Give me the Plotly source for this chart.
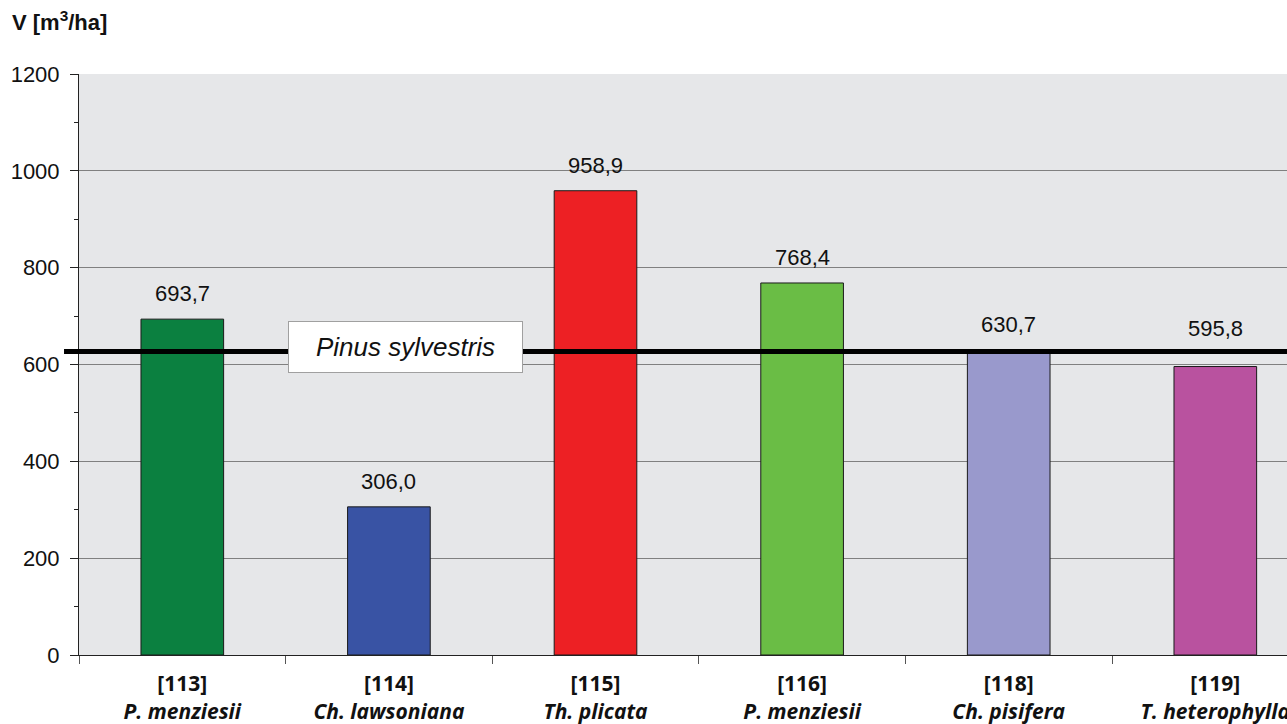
import plotly.graph_objects as go

# Stand volume per plot
plots = ["[113]", "[114]", "[115]", "[116]", "[118]", "[119]"]
species = ["P. menziesii", "Ch. lawsoniana", "Th. plicata", "P. menziesii", "Ch. pisifera", "T. heterophylla"]
volume = [693.7, 306.0, 958.9, 768.4, 630.7, 595.8]
bar_colors = ["#0b8040", "#3953a4", "#ed2024", "#6abd45", "#9999cc", "#b9529f"]

# Reference stand
ref_name = "Pinus sylvestris"
ref_volume = 627

y_ticks = [0, 200, 400, 600, 800, 1000, 1200]

fmt = lambda v: f"{v:.1f}".replace(".", ",")
ticktext = [f"<b>{p}</b><br><b><i>{s}</i></b>" for p, s in zip(plots, species)]

fig = go.Figure()
fig.add_trace(go.Bar(
    x=plots, y=volume,
    marker=dict(color=bar_colors, line=dict(color="#1a1a1a", width=1)),
    width=0.4,
    hoverinfo="skip",
))

for p, v in zip(plots, volume):
    # labels sitting just under the reference line are lifted above it
    lift = 24 if ref_volume - 40 < v < ref_volume else 11
    fig.add_annotation(
        x=p, y=v, text=fmt(v), showarrow=False,
        yanchor="bottom", yshift=lift,
        font=dict(family="Liberation Sans", size=22, color="#111"),
    )

# Reference line
fig.add_shape(
    type="line", xref="paper", yref="y",
    x0=-0.0124, x1=1, y0=ref_volume, y1=ref_volume,
    line=dict(color="black", width=5), layer="above",
)
fig.add_annotation(
    xref="paper", yref="y", x=0.2703, y=ref_volume,
    text=f"<i>{ref_name}</i>", showarrow=False,
    xanchor="center", yanchor="middle", yshift=4,
    width=231, height=48, bgcolor="white",
    bordercolor="#a0a0a0", borderwidth=1, borderpad=1,
    font=dict(family="Liberation Sans", size=26, color="#111"),
)

fig.add_annotation(
    xref="paper", yref="paper", x=-0.0575, y=1.0,
    xanchor="left", yanchor="bottom", yshift=37,
    text="<b>V [m<sup>3</sup>/ha]</b>", showarrow=False,
    font=dict(family="Liberation Sans", size=22, color="#111"),
)

fig.update_layout(
    width=1287, height=724,
    margin=dict(l=79, r=0, t=74, b=69, autoexpand=False),
    paper_bgcolor="white", plot_bgcolor="#e6e7e9",
    showlegend=False,
    bargap=0.6,
)
fig.update_xaxes(
    type="category", range=[-0.5, 5.347], automargin=False,
    tickmode="array", tickvals=plots, ticktext=ticktext,
    tickson="boundaries", ticks="outside", ticklen=8, tickcolor="#555",
    ticklabelstandoff=10,
    showline=True, linecolor="#222", linewidth=1,
    showgrid=False,
    tickfont=dict(family="Open Sans", size=21, color="#111"),
)
fig.update_yaxes(
    range=[0, 1200], tickvals=y_ticks, automargin=False,
    ticks="outside", ticklen=8, tickcolor="#222",
    ticklabelstandoff=6,
    minor=dict(dtick=100, ticks="outside", ticklen=4, tickcolor="#222", showgrid=False),
    showline=True, linecolor="#222", linewidth=1,
    showgrid=True, gridcolor="#808080", gridwidth=1,
    zeroline=False,
    tickfont=dict(family="Liberation Sans", size=22, color="#111"),
)

fig.write_html("out.html")
